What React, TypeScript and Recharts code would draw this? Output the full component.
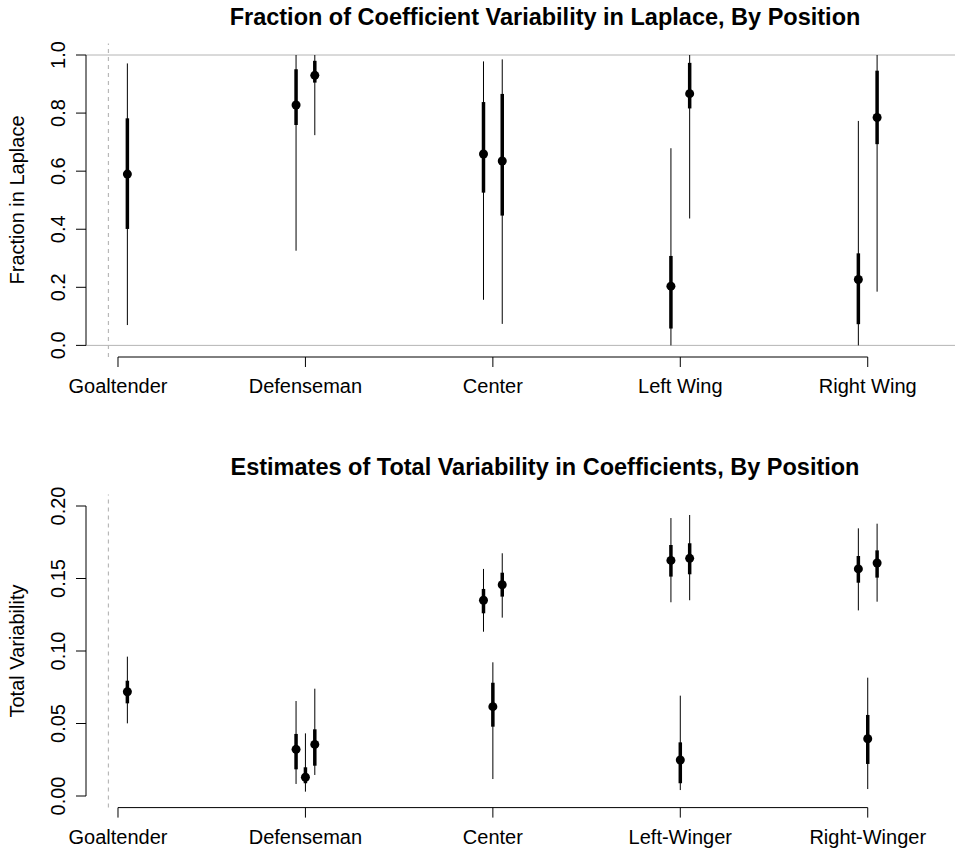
import { ComposedChart, Scatter, ErrorBar, XAxis, YAxis, ReferenceLine } from "recharts";

const FONT = "'Liberation Sans', Arial, Helvetica, sans-serif";

// top panel: fraction in Laplace
const topLabels = ["Goaltender", "Defenseman", "Center", "Left Wing", "Right Wing"];
const topX = [1.05, 1.95, 2.05, 2.95, 3.05, 3.95, 4.05, 4.95, 5.05];
const topEst = [0.59, 0.828, 0.93, 0.659, 0.635, 0.204, 0.867, 0.227, 0.785];
const topLo50 = [0.401, 0.759, 0.905, 0.526, 0.447, 0.058, 0.816, 0.073, 0.693];
const topHi50 = [0.782, 0.951, 0.98, 0.838, 0.866, 0.308, 0.973, 0.317, 0.946];
const topLo95 = [0.07, 0.326, 0.724, 0.157, 0.074, 0.0, 0.437, 0.0, 0.185];
const topHi95 = [0.971, 1.0, 1.0, 0.978, 0.985, 0.679, 1.0, 0.773, 1.0];
const topTicks = [0, 0.2, 0.4, 0.6, 0.8, 1.0];

// bottom panel: total variability
const botLabels = ["Goaltender", "Defenseman", "Center", "Left-Winger", "Right-Winger"];
const botX = [1.05, 1.95, 2.0, 2.05, 2.95, 3.0, 3.05, 3.95, 4.0, 4.05, 4.95, 5.0, 5.05];
const botEst = [0.0719, 0.0322, 0.0129, 0.0356, 0.135, 0.0616, 0.1457, 0.1625, 0.0248, 0.1639, 0.1566, 0.0395, 0.1607];
const botLo50 = [0.0639, 0.0184, 0.0088, 0.0209, 0.126, 0.0478, 0.1375, 0.1513, 0.0088, 0.1529, 0.1471, 0.0221, 0.1506];
const botHi50 = [0.0795, 0.0428, 0.0198, 0.046, 0.1428, 0.0781, 0.154, 0.1731, 0.037, 0.1743, 0.1655, 0.0559, 0.1694];
const botLo95 = [0.0501, 0.0083, 0.003, 0.0145, 0.1133, 0.0117, 0.123, 0.1336, 0.0041, 0.135, 0.128, 0.0048, 0.134];
const botHi95 = [0.0961, 0.0655, 0.0432, 0.074, 0.1566, 0.0922, 0.1674, 0.1917, 0.0692, 0.1938, 0.1846, 0.0816, 0.1878];
const botTicks = [0, 0.05, 0.1, 0.15, 0.2];

const X_MIN = 0.8293;
const X_MAX = 5.4656;
const DASH_X = 0.949;

function rows(x: number[], est: number[], lo50: number[], hi50: number[], lo95: number[], hi95: number[]) {
  return x.map((xv, i) => ({
    x: xv,
    y: est[i],
    e50: [est[i] - lo50[i], hi50[i] - est[i]],
    e95: [est[i] - lo95[i], hi95[i] - est[i]],
  }));
}

const Dot = (p: any) => <circle cx={p.cx} cy={p.cy} r={4.5} fill="#000" />;

const xTick = (labels: string[]) => (p: any) => (
  <text x={p.x} y={p.y + 24} textAnchor="middle" fontSize={20} fontFamily={FONT} fill="#000">
    {labels[Math.round(p.payload.value) - 1]}
  </text>
);

const yTick = (digits: number) => (p: any) => (
  <text
    x={p.x - 9}
    y={p.y}
    transform={`rotate(-90, ${p.x - 9}, ${p.y})`}
    textAnchor="middle"
    fontSize={20}
    fontFamily={FONT}
    fill="#000"
  >
    {p.payload.value.toFixed(digits)}
  </text>
);

function Panel(props: {
  data: any[];
  labels: string[];
  ticks: number[];
  digits: number;
  yMax: number;
  top: number;
  height: number;
  mTop: number;
  mBottom: number;
  guides: boolean;
}) {
  const pad = props.yMax * 0.04;
  return (
    <div style={{ position: "absolute", left: 0, top: props.top }}>
      <ComposedChart
        width={955}
        height={props.height}
        data={props.data}
        margin={{ top: props.mTop, right: 0, bottom: 0, left: 0 }}
      >
        <XAxis
          type="number"
          dataKey="x"
          domain={[X_MIN, X_MAX]}
          ticks={[1, 2, 3, 4, 5]}
          interval={0}
          allowDataOverflow
          axisLine={false}
          tickSize={10}
          stroke="#000"
          tickLine={{ stroke: "#000" }}
          tick={xTick(props.labels)}
          height={props.mBottom}
        />
        <YAxis
          type="number"
          dataKey="y"
          domain={[-pad, props.yMax + pad]}
          ticks={props.ticks}
          interval={0}
          allowDataOverflow
          axisLine={false}
          tickSize={10}
          stroke="#000"
          tickLine={{ stroke: "#000" }}
          tick={yTick(props.digits)}
          width={86}
        />
        {props.guides && <ReferenceLine y={0} stroke="#b4b4b4" strokeWidth={1} />}
        {props.guides && <ReferenceLine y={1} stroke="#b4b4b4" strokeWidth={1} />}
        <ReferenceLine x={DASH_X} stroke="#b8b8b8" strokeWidth={1.2} strokeDasharray="4 4" />
        <ReferenceLine
          segment={[{ x: 1, y: -pad }, { x: 5, y: -pad }]}
          stroke="#000"
          strokeWidth={1}
          ifOverflow="visible"
        />
        <ReferenceLine
          segment={[{ x: X_MIN, y: 0 }, { x: X_MIN, y: props.yMax }]}
          stroke="#000"
          strokeWidth={1}
          ifOverflow="visible"
        />
        <Scatter dataKey="y" shape={Dot} isAnimationActive={false}>
          <ErrorBar dataKey="e95" direction="y" width={0} stroke="#000" strokeWidth={1} isAnimationActive={false} />
          <ErrorBar dataKey="e50" direction="y" width={0} stroke="#000" strokeWidth={3.5} isAnimationActive={false} />
        </Scatter>
      </ComposedChart>
    </div>
  );
}

export default function App() {
  const topData = rows(topX, topEst, topLo50, topHi50, topLo95, topHi95);
  const botData = rows(botX, botEst, botLo50, botHi50, botLo95, botHi95);
  return (
    <div style={{ position: "absolute", left: 0, top: 0, width: 955, height: 851, background: "#fff", fontFamily: FONT }}>
      <Panel
        data={topData}
        labels={topLabels}
        ticks={topTicks}
        digits={1}
        yMax={1}
        top={0}
        height={425}
        mTop={43.4}
        mBottom={68}
        guides
      />
      <Panel
        data={botData}
        labels={botLabels}
        ticks={botTicks}
        digits={2}
        yMax={0.2}
        top={425}
        height={426}
        mTop={69.4}
        mBottom={43.4}
        guides={false}
      />
      <svg width={955} height={851} style={{ position: "absolute", left: 0, top: 0, pointerEvents: "none" }}>
        <text x={545} y={25} textAnchor="middle" fontSize={23.5} fontWeight="bold" fontFamily={FONT} fill="#000">
          Fraction of Coefficient Variability in Laplace, By Position
        </text>
        <text x={545} y={475} textAnchor="middle" fontSize={23.5} fontWeight="bold" fontFamily={FONT} fill="#000">
          Estimates of Total Variability in Coefficients, By Position
        </text>
        <text x={24} y={200} transform="rotate(-90, 24, 200)" textAnchor="middle" fontSize={20} fontFamily={FONT} fill="#000">
          Fraction in Laplace
        </text>
        <text x={24} y={651} transform="rotate(-90, 24, 651)" textAnchor="middle" fontSize={20} fontFamily={FONT} fill="#000">
          Total Variability
        </text>
      </svg>
    </div>
  );
}
